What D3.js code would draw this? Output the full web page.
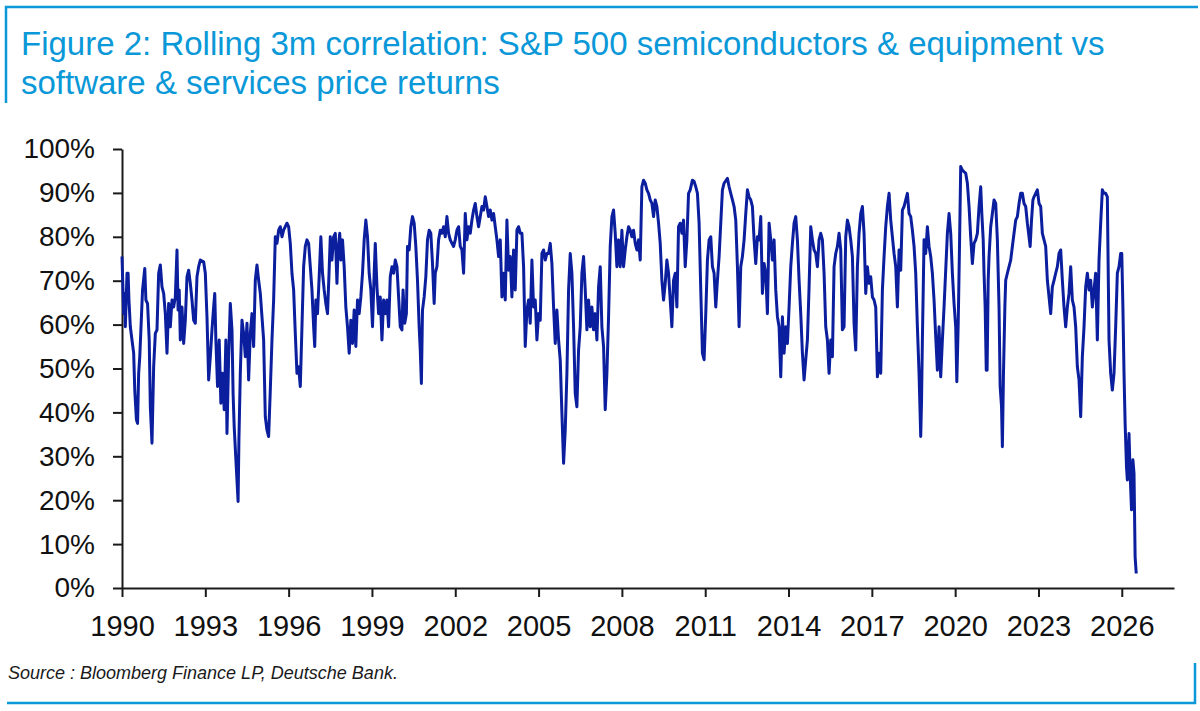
<!DOCTYPE html>
<html>
<head>
<meta charset="utf-8">
<script src="https://cdn.jsdelivr.net/npm/d3@7"></script>
<style>
  html, body { margin: 0; padding: 0; background: #fff; }
  svg { display: block; font-family: "Liberation Sans", Arial, sans-serif; }
</style>
</head>
<body>
<svg id="corr-svg" width="1200" height="711"></svg>
<script>
// rolling 3m correlation as [decimal year, %]
const corr1990s = [
  [1990.00, 75.5], [1990.06, 62.5], [1990.10, 67], [1990.12, 59.5], [1990.18, 71.7], [1990.22, 71.7],
  [1990.25, 65.6], [1990.30, 59.5], [1990.36, 56.5], [1990.42, 53.5], [1990.46, 45], [1990.52, 38.3],
  [1990.56, 37.5], [1990.60, 48.9], [1990.64, 52.7], [1990.68, 58.8], [1990.74, 67.9], [1990.82, 72.8],
  [1990.86, 65.6], [1990.92, 64.8], [1990.98, 56.5], [1991.02, 41.3], [1991.08, 33], [1991.14, 50.4],
  [1991.20, 58], [1991.26, 58.8], [1991.32, 71.7], [1991.38, 73.6], [1991.44, 68.6], [1991.50, 67.1],
  [1991.56, 62.5], [1991.62, 53.5], [1991.68, 64.8], [1991.74, 59.5], [1991.80, 65.6], [1991.86, 64],
  [1991.92, 66.3], [1991.98, 77], [1992.02, 63.3], [1992.06, 67.9], [1992.10, 56.5], [1992.16, 64],
  [1992.22, 55.7], [1992.28, 61], [1992.34, 70.9], [1992.40, 72.4], [1992.46, 69.4], [1992.52, 65.6],
  [1992.58, 61], [1992.64, 60.3], [1992.70, 70.9], [1992.76, 73.2], [1992.82, 74.7], [1992.94, 74.3],
  [1993.00, 71.7], [1993.06, 61.8], [1993.12, 47.4], [1993.18, 52.7], [1993.24, 58.8], [1993.30, 64],
  [1993.34, 67.1], [1993.38, 56.5], [1993.44, 45.9], [1993.50, 56.5], [1993.56, 42.1], [1993.62, 48.9],
  [1993.68, 40.6], [1993.74, 56.5], [1993.78, 35.2], [1993.84, 52.7], [1993.90, 64.8], [1993.96, 58.8],
  [1994.00, 44.3], [1994.04, 36.7], [1994.12, 26.9], [1994.18, 19.7], [1994.21, 33.7], [1994.26, 48.9],
  [1994.32, 61], [1994.38, 58], [1994.44, 52.7], [1994.50, 60.3], [1994.56, 47.4], [1994.62, 58],
  [1994.68, 62.5], [1994.74, 55], [1994.80, 70.1], [1994.86, 73.6], [1994.92, 70.1], [1994.98, 67.1],
  [1995.04, 61.8], [1995.10, 56.5], [1995.16, 39], [1995.22, 36], [1995.28, 34.5], [1995.34, 45.1],
  [1995.40, 56.5], [1995.46, 65.6], [1995.52, 80], [1995.58, 78.5], [1995.64, 81.5], [1995.70, 82.3],
  [1995.76, 80], [1995.82, 81.5], [1995.94, 83.1], [1996.00, 82.3], [1996.06, 78.5], [1996.12, 71.7],
  [1996.18, 67.9], [1996.24, 58], [1996.30, 48.9], [1996.36, 50.4], [1996.42, 45.9], [1996.48, 59.5],
  [1996.54, 73.2], [1996.60, 77.8], [1996.66, 79.3], [1996.72, 78.5], [1996.78, 73.2], [1996.84, 67.9],
  [1996.90, 59.5], [1996.94, 55], [1996.98, 65.6], [1997.04, 62.5], [1997.10, 70.9], [1997.16, 80],
  [1997.22, 71.7], [1997.28, 67.9], [1997.34, 64.8], [1997.40, 62.5], [1997.45, 70.9], [1997.50, 80],
  [1997.56, 74.7], [1997.62, 80], [1997.68, 80.8], [1997.74, 69.4], [1997.78, 77], [1997.84, 80.8],
  [1997.88, 74.7], [1997.94, 79.3], [1998.00, 73.2], [1998.06, 64], [1998.12, 59.5], [1998.18, 53.5],
  [1998.24, 61], [1998.30, 55.7], [1998.36, 63.3], [1998.42, 55], [1998.48, 65.6], [1998.54, 62.5],
  [1998.60, 66.3], [1998.66, 71.7], [1998.72, 79.3], [1998.78, 83.8], [1998.84, 80], [1998.90, 71.7],
  [1998.96, 67.9], [1999.02, 59.5], [1999.08, 71.7], [1999.12, 78.5], [1999.18, 68.6], [1999.24, 62.5],
  [1999.30, 66.3], [1999.36, 56.5], [1999.42, 65.6], [1999.48, 62.5], [1999.54, 65.6], [1999.60, 59.5],
  [1999.66, 70.9], [1999.72, 73.2], [1999.78, 71.7], [1999.84, 74.7], [1999.90, 73.2], [1999.96, 66.3],
  [2000.02, 59.5]
];

const corr2000s = [
  [2000.08, 58.8], [2000.12, 67.9], [2000.18, 60.3], [2000.24, 62.5], [2000.28, 77.8], [2000.34, 77],
  [2000.40, 82.3], [2000.46, 84.6], [2000.52, 83.1], [2000.58, 77.8], [2000.64, 70.1], [2000.70, 59.5],
  [2000.74, 54.2], [2000.78, 46.6], [2000.82, 63.3], [2000.88, 66.3], [2000.94, 70.9], [2001.00, 79.3],
  [2001.06, 81.5], [2001.12, 80.8], [2001.18, 73.9], [2001.24, 64.8], [2001.28, 71.7], [2001.34, 73.2],
  [2001.40, 79.3], [2001.46, 81.5], [2001.52, 80.8], [2001.58, 82.3], [2001.64, 80], [2001.70, 84.6],
  [2001.76, 80.8], [2001.82, 79.3], [2001.88, 78.5], [2001.94, 77.8], [2002.00, 79.3], [2002.06, 81.5],
  [2002.12, 82.3], [2002.18, 77.8], [2002.24, 77], [2002.30, 71.7], [2002.36, 85.3], [2002.42, 79.3],
  [2002.48, 82.3], [2002.54, 80.8], [2002.60, 83.8], [2002.66, 86.1], [2002.72, 87.6], [2002.78, 84.6],
  [2002.84, 82.3], [2002.90, 84.6], [2002.96, 86.9], [2003.02, 86.1], [2003.08, 89.1], [2003.14, 86.9],
  [2003.20, 84.6], [2003.26, 86.1], [2003.32, 83.8], [2003.38, 85.3], [2003.44, 82.3], [2003.50, 79.3],
  [2003.56, 75.5], [2003.62, 79.3], [2003.68, 66.3], [2003.74, 71.7], [2003.80, 65.6], [2003.86, 83.8],
  [2003.92, 72.4], [2003.98, 75.5], [2004.04, 66.3], [2004.10, 77], [2004.16, 67.9], [2004.22, 81.5],
  [2004.28, 82.3], [2004.34, 80.8], [2004.40, 80.8], [2004.46, 73.2], [2004.52, 55], [2004.58, 63.3],
  [2004.64, 65.6], [2004.70, 60.3], [2004.76, 74.7], [2004.82, 64], [2004.88, 65.6], [2004.94, 56.5],
  [2005.00, 62.5], [2005.06, 61], [2005.12, 76.2], [2005.18, 77], [2005.24, 74.7], [2005.30, 76.2],
  [2005.36, 76.2], [2005.42, 78.5], [2005.48, 73.9], [2005.54, 64], [2005.60, 55.7], [2005.66, 63.3],
  [2005.72, 56.5], [2005.78, 51.9], [2005.84, 39.8], [2005.90, 28.4], [2005.96, 36], [2006.02, 48.9],
  [2006.08, 67.9], [2006.14, 76.2], [2006.20, 71.7], [2006.26, 59.5], [2006.32, 44.3], [2006.38, 41.3],
  [2006.44, 54.2], [2006.50, 59.5], [2006.56, 71.7], [2006.62, 75.5], [2006.68, 67.9], [2006.74, 58.8],
  [2006.80, 65.6], [2006.86, 59.5], [2006.92, 64], [2006.98, 58.8], [2007.04, 62.5], [2007.10, 56.5],
  [2007.16, 68.6], [2007.22, 73.2], [2007.28, 59.5], [2007.34, 55], [2007.40, 40.6], [2007.46, 48.9],
  [2007.52, 61.8], [2007.58, 77.8], [2007.64, 84.6], [2007.70, 86.1], [2007.76, 80.8], [2007.82, 73.2],
  [2007.88, 79.3], [2007.94, 73.2], [2008.00, 81.5], [2008.06, 73.2], [2008.12, 77], [2008.18, 80],
  [2008.24, 82.3], [2008.30, 81.5], [2008.36, 80], [2008.42, 81.5], [2008.48, 78.5], [2008.54, 77],
  [2008.60, 79.3], [2008.66, 74.7], [2008.72, 91.4], [2008.78, 92.9], [2008.84, 92.2], [2008.90, 90.7],
  [2008.96, 89.9], [2009.02, 88.4], [2009.08, 87.6], [2009.14, 84.6], [2009.20, 88.4], [2009.26, 86.9],
  [2009.32, 83.1], [2009.38, 78.5], [2009.44, 70.1], [2009.50, 65.6], [2009.56, 69.4], [2009.62, 74.7],
  [2009.68, 71.7], [2009.74, 65.6], [2009.80, 59.5], [2009.86, 70.1], [2009.92, 71.7], [2009.98, 64]
];

const corr2010s = [
  [2010.04, 82.3], [2010.10, 83.1], [2010.16, 80.8], [2010.22, 83.8], [2010.28, 73.2], [2010.34, 79.3],
  [2010.40, 89.9], [2010.46, 90.7], [2010.54, 92.9], [2010.60, 92.6], [2010.66, 91.4], [2010.72, 89.9],
  [2010.78, 83.1], [2010.84, 67.9], [2010.90, 53.5], [2010.96, 52], [2011.02, 62.5], [2011.08, 74.7],
  [2011.14, 79.3], [2011.20, 80], [2011.26, 73.2], [2011.32, 71.7], [2011.38, 64], [2011.44, 70.1],
  [2011.50, 75.5], [2011.56, 83.1], [2011.62, 90.7], [2011.68, 92.2], [2011.80, 93.3], [2011.86, 91.4],
  [2011.92, 89.9], [2011.98, 88.4], [2012.04, 86.9], [2012.10, 83.8], [2012.16, 73.2], [2012.22, 59.5],
  [2012.28, 73.2], [2012.34, 75.5], [2012.40, 79.3], [2012.46, 85.3], [2012.52, 90.7], [2012.58, 89.1],
  [2012.64, 88.4], [2012.70, 86.9], [2012.76, 79.3], [2012.82, 73.9], [2012.88, 80], [2012.94, 79.3],
  [2013.00, 84.6], [2013.06, 67.1], [2013.12, 73.9], [2013.18, 71.7], [2013.24, 62.5], [2013.30, 83.1],
  [2013.36, 79.3], [2013.42, 74.7], [2013.48, 79.3], [2013.54, 67.9], [2013.60, 61.8], [2013.66, 59.5],
  [2013.72, 48.1], [2013.78, 61.8], [2013.84, 53.5], [2013.90, 59.5], [2013.96, 55.7], [2014.02, 64],
  [2014.08, 73.2], [2014.14, 78.5], [2014.20, 83.1], [2014.26, 84.6], [2014.32, 79.3], [2014.38, 70.1],
  [2014.44, 62.5], [2014.50, 53.5], [2014.56, 47.4], [2014.62, 52], [2014.68, 56.5], [2014.74, 68.6],
  [2014.80, 82.3], [2014.86, 79.3], [2014.92, 77], [2014.98, 76.2], [2015.04, 73.2], [2015.10, 79.3],
  [2015.16, 80.8], [2015.22, 79.3], [2015.28, 71.7], [2015.34, 59.5], [2015.40, 56.5], [2015.46, 48.9],
  [2015.52, 56.5], [2015.58, 52.7], [2015.64, 73.2], [2015.70, 76.2], [2015.76, 77.8], [2015.82, 80.8],
  [2015.88, 77], [2015.94, 58.8], [2016.00, 59.5], [2016.06, 80], [2016.12, 83.8], [2016.18, 82.3],
  [2016.24, 79.3], [2016.30, 75.5], [2016.36, 60.3], [2016.42, 54.2], [2016.48, 73.2], [2016.54, 80.8],
  [2016.60, 85.3], [2016.66, 86.9], [2016.72, 80.8], [2016.78, 67.1], [2016.84, 73.2], [2016.90, 69.4],
  [2016.96, 70.9], [2017.02, 66.3], [2017.08, 65.6], [2017.14, 64], [2017.20, 48.1], [2017.26, 53.5],
  [2017.32, 48.9], [2017.38, 67.9], [2017.44, 75.5], [2017.50, 82.3], [2017.56, 86.9], [2017.62, 89.9],
  [2017.68, 83.8], [2017.74, 80], [2017.80, 76.2], [2017.86, 73.2], [2017.92, 64], [2017.98, 77],
  [2018.04, 72.4], [2018.10, 86.1], [2018.16, 86.9], [2018.22, 88.4], [2018.28, 89.9], [2018.34, 85.3],
  [2018.40, 84.6], [2018.46, 81.5], [2018.52, 77.8], [2018.58, 71.7], [2018.64, 59.5], [2018.70, 48.9],
  [2018.76, 34.5], [2018.79, 42.8], [2018.82, 56.5], [2018.88, 79.3], [2018.94, 76.2], [2019.00, 82.3],
  [2019.06, 77.8], [2019.12, 75.5], [2019.18, 71.7], [2019.24, 65.6], [2019.30, 57.3], [2019.36, 49.6],
  [2019.42, 59.5], [2019.48, 48.1], [2019.54, 56.5], [2019.60, 64], [2019.66, 72.4], [2019.72, 80.8],
  [2019.78, 85.3], [2019.84, 80.8], [2019.90, 71.7], [2019.96, 64.8]
];

const corr2020s = [
  [2020.02, 59.5], [2020.06, 47], [2020.11, 60.3], [2020.16, 79.3], [2020.20, 96], [2020.26, 95.2],
  [2020.32, 94.8], [2020.38, 94.5], [2020.44, 92.2], [2020.50, 86.9], [2020.56, 80], [2020.62, 73.9],
  [2020.68, 78.5], [2020.74, 79.3], [2020.80, 80.8], [2020.86, 86.9], [2020.92, 91.4], [2020.96, 85.3],
  [2021.01, 79.3], [2021.04, 71.7], [2021.08, 64], [2021.12, 49.6], [2021.15, 49.6], [2021.19, 70.1],
  [2021.22, 75.5], [2021.28, 82.3], [2021.34, 85.3], [2021.40, 88.4], [2021.46, 87.6], [2021.52, 79.3],
  [2021.58, 64], [2021.62, 45.9], [2021.67, 41.3], [2021.70, 32.2], [2021.74, 48.9], [2021.79, 64],
  [2021.82, 70.1], [2021.88, 71.7], [2021.94, 73.2], [2022.00, 74.7], [2022.06, 77.8], [2022.12, 80.8],
  [2022.18, 83.8], [2022.24, 84.6], [2022.30, 87.6], [2022.36, 89.9], [2022.42, 89.9], [2022.48, 87.6],
  [2022.54, 86.9], [2022.60, 83.1], [2022.66, 80], [2022.70, 77.8], [2022.75, 83.8], [2022.80, 88.4],
  [2022.84, 89.1], [2022.90, 89.9], [2022.96, 90.7], [2023.02, 87.6], [2023.08, 86.9], [2023.14, 80.8],
  [2023.20, 79.3], [2023.26, 77.8], [2023.32, 70.1], [2023.38, 66.3], [2023.44, 62.5], [2023.50, 68.6],
  [2023.56, 70.1], [2023.62, 71.7], [2023.68, 73.2], [2023.74, 76.2], [2023.80, 77], [2023.86, 70.1],
  [2023.92, 64], [2023.98, 59.5], [2024.04, 64], [2024.10, 67.1], [2024.16, 73.2], [2024.22, 65.6],
  [2024.28, 64], [2024.34, 59.5], [2024.40, 50.4], [2024.46, 47.4], [2024.52, 39], [2024.58, 52.7],
  [2024.64, 59.5], [2024.70, 68.6], [2024.76, 71.7], [2024.82, 67.9], [2024.88, 70.1], [2024.94, 64],
  [2025.00, 67.9], [2025.06, 71.7], [2025.12, 56.5], [2025.18, 74.7], [2025.24, 83.1], [2025.30, 90.7],
  [2025.36, 89.9], [2025.42, 89.9], [2025.48, 89.1], [2025.54, 56.5], [2025.60, 48.9], [2025.66, 45.1],
  [2025.72, 48.9], [2025.78, 59.5], [2025.84, 71.7], [2025.90, 73.2], [2025.96, 76.2], [2026.00, 76.2],
  [2026.04, 64], [2026.08, 48.9], [2026.12, 37.5], [2026.17, 27.6], [2026.20, 24.6], [2026.26, 35.2],
  [2026.30, 26.1], [2026.35, 17.8], [2026.40, 29.2], [2026.44, 26.1], [2026.48, 7.1], [2026.52, 3.3]
];

const yearTicks = [1990, 1993, 1996, 1999, 2002, 2005, 2008, 2011, 2014, 2017, 2020, 2023, 2026];
const pctTicks = [0, 10, 20, 30, 40, 50, 60, 70, 80, 90, 100];

const titleLines = [
  "Figure 2: Rolling 3m correlation: S&P 500 semiconductors & equipment vs",
  "software & services price returns"
];
const sourceNote = "Source : Bloomberg Finance LP, Deutsche Bank.";

(function drawCorrChart() {
  const svg = d3.select("#corr-svg");
  const width = 1200;
  const height = 711;

  const dbBlue = "#0a98d8";
  const lineBlue = "#0b1f9e";

  const margin = { top: 149, right: 26, bottom: 123, left: 122 };
  const innerWidth = width - margin.left - margin.right;
  const innerHeight = height - margin.top - margin.bottom;

  // frame pieces: top rule + left stub, bottom rule + right stub
  svg.append("path")
    .attr("d", "M6,103 V7 H1198")
    .attr("fill", "none")
    .attr("stroke", dbBlue)
    .attr("stroke-width", 2.5);

  svg.append("path")
    .attr("d", "M7,703 H1195 V663")
    .attr("fill", "none")
    .attr("stroke", dbBlue)
    .attr("stroke-width", 2.5);

  svg.append("g")
    .selectAll("text")
    .data(titleLines)
    .enter()
    .append("text")
    .attr("x", 21)
    .attr("y", (d, i) => 55 + i * 39)
    .attr("fill", dbBlue)
    .attr("font-size", "33px")
    .text(d => d);

  const g = svg.append("g")
    .attr("transform", `translate(${margin.left},${margin.top})`);

  const x = d3.scaleLinear()
    .domain([1990, 2027.88])
    .range([0, innerWidth]);

  const y = d3.scaleLinear()
    .domain([0, 100])
    .range([innerHeight, 0]);

  const data = [].concat(corr1990s, corr2000s, corr2010s, corr2020s);

  const line = d3.line()
    .x(d => x(d[0]))
    .y(d => y(d[1]));

  const xAxis = g.append("g")
    .attr("transform", `translate(0,${innerHeight})`)
    .call(d3.axisBottom(x)
      .tickValues(yearTicks)
      .tickFormat(d3.format("d"))
      .tickSize(9)
      .tickSizeOuter(0)
      .tickPadding(18));

  const yAxis = g.append("g")
    .call(d3.axisLeft(y)
      .tickValues(pctTicks)
      .tickFormat(d => d + "%")
      .tickSize(9)
      .tickSizeOuter(0)
      .tickPadding(18));

  [xAxis, yAxis].forEach(ax => {
    ax.select(".domain").attr("stroke", "#1a1a1a").attr("stroke-width", 2);
    ax.selectAll(".tick line").attr("stroke", "#1a1a1a").attr("stroke-width", 2);
    ax.selectAll(".tick text")
      .attr("fill", "#111")
      .style("font-family", "'Liberation Sans', Arial, sans-serif");
  });
  xAxis.selectAll(".tick text").style("font-size", "29px");
  yAxis.selectAll(".tick text").style("font-size", "28px");

  g.append("path")
    .datum(data)
    .attr("fill", "none")
    .attr("stroke", lineBlue)
    .attr("stroke-width", 3)
    .attr("stroke-linejoin", "round")
    .attr("d", line);

  svg.append("text")
    .attr("x", 8)
    .attr("y", 679)
    .attr("font-size", "18px")
    .attr("font-style", "italic")
    .attr("fill", "#1a1a1a")
    .text(sourceNote);
})();
</script>
</body>
</html>
